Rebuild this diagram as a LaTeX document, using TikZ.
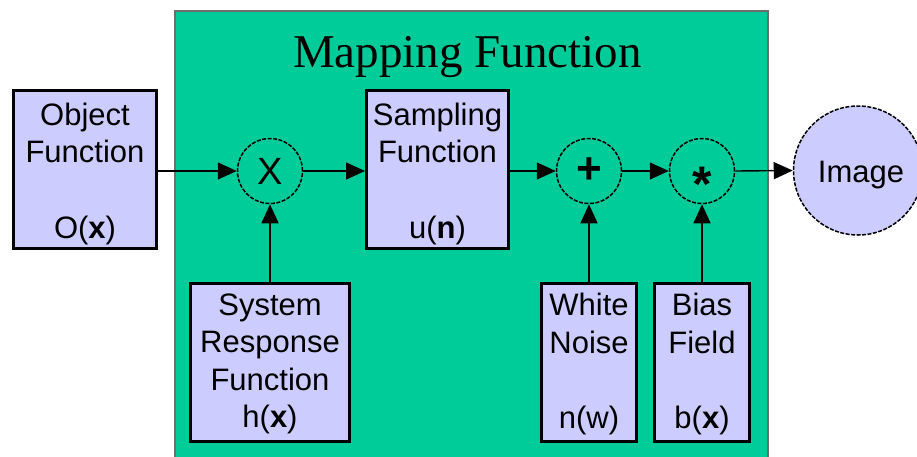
\documentclass[tikz,border=0pt]{standalone}
\usepackage{fontspec}
\setmainfont{Liberation Sans}
\newfontfamily\titlefont{Liberation Serif}
\usetikzlibrary{arrows.meta}
\definecolor{mapgreen}{RGB}{0,204,153}
\definecolor{lav}{RGB}{204,204,255}
\definecolor{frame}{RGB}{110,110,110}
\begin{document}
\begin{tikzpicture}[x=1pt,y=-1pt,
  blk/.style={draw=black, line width=3pt, fill=lav, rectangle, inner sep=0pt},
  op/.style={circle, draw=black, line width=1.5pt, dash pattern=on 4pt off 1.5pt, fill=mapgreen,
    minimum size=65pt, inner sep=0pt, font=\fontsize{38}{38}\selectfont},
  arr/.style={-{Triangle[length=19pt,width=17pt]}, line width=1.4pt},
  txt/.style={anchor=base, inner sep=0pt, font=\fontsize{31}{31}\selectfont}
]
\useasboundingbox (0,0) rectangle (917,456);
\clip (0,0) rectangle (917,456);
% mapping function frame
\node[draw=frame, line width=1.5pt, fill=mapgreen, rectangle, inner sep=0pt,
  minimum width=593pt, minimum height=460pt, anchor=north west] (map) at (174,10) {};
\node[anchor=base, inner sep=0pt, font=\titlefont\fontsize{47}{47}\selectfont] (title) at (467.5,67) {Mapping Function};
% blocks
\node[blk, minimum width=143pt, minimum height=158pt] (obj) at (85,169.5) {};
\node[blk, minimum width=142pt, minimum height=158pt] (samp) at (437.5,169.5) {};
\node[blk, minimum width=159pt, minimum height=158pt] (sys) at (270,362.5) {};
\node[blk, minimum width=95pt, minimum height=158pt] (noise) at (589,362.5) {};
\node[blk, minimum width=95pt, minimum height=158pt] (bias) at (702,362.5) {};
% block texts
\node[txt] (objA) at (85,125) {Object};
\node[txt] (objB) at (85,162) {Function};
\node[txt] (objC) at (85,238) {O(\textbf{x})};
\node[txt] (sampA) at (437.5,125) {Sampling};
\node[txt] (sampB) at (437.5,162) {Function};
\node[txt] (sampC) at (437.5,238) {u(\textbf{n})};
\node[txt] (sysA) at (270,315) {System};
\node[txt] (sysB) at (270,352) {Response};
\node[txt] (sysC) at (270,390) {Function};
\node[txt] (sysD) at (270,427) {h(\textbf{x})};
\node[txt] (noiseA) at (589,315) {White};
\node[txt] (noiseB) at (589,353) {Noise};
\node[txt] (noiseC) at (589,428) {n(w)};
\node[txt] (biasA) at (702,315) {Bias};
\node[txt] (biasB) at (702,353) {Field};
\node[txt] (biasC) at (702,428) {b(\textbf{x})};
% operators
\node[op] (mul) at (270,171) {X};
\node[op, font=\fontsize{44}{44}\selectfont\bfseries] (add) at (589,171) {+};
\node[op] (conv) at (702,171) {};
\node[anchor=base, inner sep=0pt, font=\fontsize{50}{50}\selectfont\bfseries] (convtxt) at (702,201) {*};
\node[op, fill=lav, minimum size=129pt] (img) at (858,170.5) {};
\node[txt] (imgtxt) at (861,182) {Image};
% connectors
\draw[arr] (obj.east |- mul) -- (mul.west);
\draw[arr] (mul.east) -- (samp.west |- mul);
\draw[arr] (samp.east |- add) -- (add.west);
\draw[arr] (add.east) -- (conv.west);
\draw[arr] (conv.east) -- (img.west);
\draw[arr] (sys.north) -- (mul.south);
\draw[arr] (noise.north) -- (add.south);
\draw[arr] (bias.north) -- (conv.south);
\end{tikzpicture}
\end{document}
